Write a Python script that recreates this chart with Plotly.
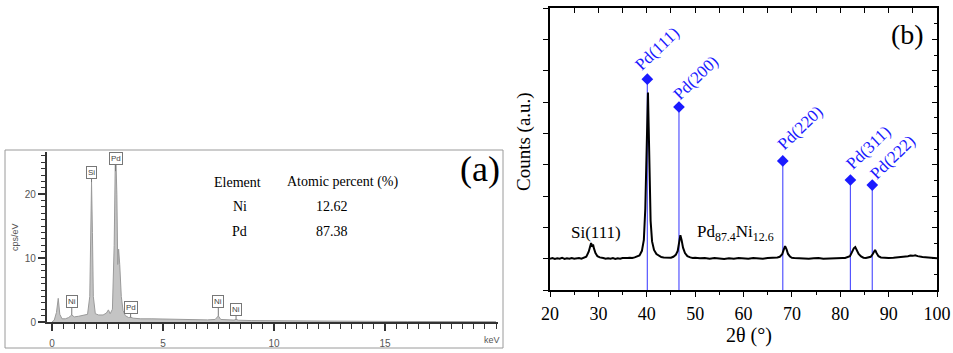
import plotly.graph_objects as go

W, H = 953, 353

# ---------------- Panel (a): EDS spectrum ----------------
eds_kev = [0.0, 0.1, 0.2, 0.28, 0.35, 0.45, 0.6, 0.75, 0.89, 1.0, 1.2, 1.4, 1.6, 1.7, 1.74, 1.78,
           1.82, 1.86, 1.95, 2.1, 2.3, 2.45, 2.54, 2.62, 2.72, 2.8, 2.86, 2.92, 2.96, 3.0, 3.05,
           3.12, 3.2, 3.3, 3.45, 3.54, 3.65, 4.0, 4.5, 5.0, 5.5, 6.0, 6.5, 7.0, 7.35, 7.49, 7.6,
           7.9, 8.2, 8.29, 8.4, 9.0, 10.0, 11.0, 12.0, 13.0, 14.0, 15.0, 16.0, 17.0, 18.0, 19.0, 20.0]
eds_cps = [0.0, 0.3, 1.5, 3.7, 1.2, 0.5, 0.5, 0.7, 1.1, 0.8, 0.9, 1.0, 1.2, 4.0, 12.0, 21.9,
           14.0, 4.0, 1.3, 1.1, 1.1, 1.4, 1.9, 1.3, 2.0, 12.0, 28.0, 20.0, 9.0, 11.4, 9.0,
           4.0, 1.8, 1.0, 0.7, 0.75, 0.6, 0.5, 0.5, 0.45, 0.42, 0.4, 0.35, 0.33, 0.4, 0.95, 0.4,
           0.3, 0.3, 0.42, 0.28, 0.22, 0.18, 0.15, 0.13, 0.11, 0.1, 0.09, 0.08, 0.07, 0.06, 0.05, 0.05]

eds_labels = ["Ni", "Si", "Pd", "Pd", "Ni", "Ni"]
eds_label_kev = [0.89, 1.78, 2.86, 3.54, 7.49, 8.29]
eds_label_cps = [1.1, 21.9, 23.6, 0.7, 0.95, 0.4]
eds_label_off = [-13, -10, -13, -10, -14, -10]

eds_tick_vals = [0, 5, 10, 15]
eds_tick_text = ["0", "5", "10", "15"]

table_header = ["Element", "Atomic percent (%)"]
table_elements = ["Ni", "Pd"]
table_percent = ["12.62", "87.38"]

# ---------------- Panel (b): XRD pattern ----------------
xrd_2theta = [20.0, 20.5, 21.0, 21.5, 22.0, 22.5, 23.0, 23.5, 24.0, 24.5, 25.0, 25.5, 26.0, 26.5,
              27.0, 27.5, 28.0, 28.3, 28.5, 28.7, 28.9, 29.1, 29.4, 29.8, 30.3, 31.0, 31.5, 32.0,
              32.5, 33.0, 33.5, 34.0, 34.5, 35.0, 35.5, 36.0, 36.5, 37.0, 37.5, 38.0, 38.5, 39.0,
              39.4, 39.7, 39.9, 40.1, 40.25, 40.4, 40.6, 40.8, 41.1, 41.5, 42.0, 42.5, 43.0, 43.5,
              44.0, 44.5, 45.0, 45.5, 46.0, 46.4, 46.7, 46.95, 47.2, 47.5, 47.9, 48.4, 49.0, 49.5,
              50.0, 51.0, 52.0, 53.0, 54.0, 55.0, 56.0, 57.0, 58.0, 59.0, 60.0, 61.0, 62.0, 63.0,
              64.0, 65.0, 66.0, 66.5, 67.0, 67.5, 68.0, 68.3, 68.6, 68.9, 69.2, 69.6, 70.0, 70.5,
              71.5, 72.5, 73.5, 74.5, 75.5, 76.5, 77.5, 78.5, 79.5, 80.5, 81.0, 81.5, 82.0, 82.4,
              82.8, 83.1, 83.4, 83.8, 84.3, 84.8, 85.3, 85.8, 86.3, 86.7, 87.0, 87.2, 87.5, 87.9,
              88.4, 89.0, 90.0, 91.0, 92.0, 93.0, 94.0, 94.5, 95.0, 95.5, 96.0, 97.0, 98.0, 99.0, 100.0]
xrd_counts = [1.00, 1.02, 0.99, 1.01, 1.00, 1.03, 0.99, 1.01, 1.00, 1.02, 1.00, 1.01, 1.02, 1.00,
              1.03, 1.06, 1.22, 1.42, 1.50, 1.38, 1.45, 1.32, 1.18, 1.08, 1.04, 1.02, 1.00, 1.01,
              1.00, 1.02, 0.99, 1.01, 1.00, 1.02, 1.01, 1.02, 1.03, 1.02, 1.04, 1.06, 1.10, 1.25,
              1.60, 2.60, 4.20, 6.10, 6.30, 5.20, 3.40, 2.20, 1.55, 1.28, 1.15, 1.09, 1.05, 1.04,
              1.03, 1.04, 1.03, 1.06, 1.12, 1.25, 1.50, 1.75, 1.60, 1.35, 1.18, 1.08, 1.04, 1.02,
              1.03, 1.01, 1.02, 1.00, 1.02, 1.01, 0.99, 1.01, 1.00, 1.02, 1.01, 1.00, 1.02, 1.01,
              1.00, 1.02, 1.02, 1.03, 1.04, 1.06, 1.14, 1.28, 1.40, 1.30, 1.15, 1.07, 1.03, 1.02,
              1.01, 1.02, 1.00, 1.01, 1.02, 1.00, 1.01, 1.02, 1.01, 1.02, 1.02, 1.04, 1.08, 1.20,
              1.33, 1.37, 1.28, 1.15, 1.07, 1.03, 1.02, 1.03, 1.06, 1.14, 1.26, 1.28, 1.18, 1.08,
              1.04, 1.03, 1.02, 1.03, 1.04, 1.06, 1.08, 1.10, 1.09, 1.11, 1.08, 1.05, 1.03, 1.02, 1.01]

ref_names = ["Pd(111)", "Pd(200)", "Pd(220)", "Pd(311)", "Pd(222)"]
ref_2theta = [40.12, 46.66, 68.12, 82.10, 86.62]
ref_height = [6.73, 5.84, 4.12, 3.51, 3.35]
ref_label_dx = [10, 17, 18, 18, 20]
ref_label_dy = [31, 30, 33, 33, 28]


def px(x):
    return x / W


def py(y):
    return 1 - y / H


SERIF = "Liberation Serif, Times New Roman, serif"
SANS = "Liberation Sans, Arial, sans-serif"
BLUE = "#1a1aff"

fig = go.Figure()

# EDS spectrum
fig.add_trace(go.Scatter(x=eds_kev, y=eds_cps, mode="lines", fill="tozeroy",
                         fillcolor="#c4c4c4", line=dict(color="#9a9a9a", width=1),
                         xaxis="x", yaxis="y", hoverinfo="skip", showlegend=False))

# XRD reference stems
stem_x, stem_y = [], []
for t, h in zip(ref_2theta, ref_height):
    stem_x += [t, t, None]
    stem_y += [0, h, None]
fig.add_trace(go.Scatter(x=stem_x, y=stem_y, mode="lines", line=dict(color="#5555ff", width=1.2),
                         xaxis="x2", yaxis="y2", showlegend=False, hoverinfo="skip"))
# XRD pattern
fig.add_trace(go.Scatter(x=xrd_2theta, y=xrd_counts, mode="lines", line=dict(color="black", width=2),
                         xaxis="x2", yaxis="y2", showlegend=False, hoverinfo="skip"))
fig.add_trace(go.Scatter(x=ref_2theta, y=ref_height, mode="markers",
                         marker=dict(symbol="diamond", size=9, color=BLUE),
                         xaxis="x2", yaxis="y2", showlegend=False, hoverinfo="skip"))
# invisible traces for the mirror axes (right and top of panel b)
fig.add_trace(go.Scatter(x=[20], y=[0], mode="markers", marker=dict(opacity=0),
                         xaxis="x2", yaxis="y3", showlegend=False, hoverinfo="skip"))
fig.add_trace(go.Scatter(x=[20], y=[0], mode="markers", marker=dict(opacity=0),
                         xaxis="x3", yaxis="y2", showlegend=False, hoverinfo="skip"))

annotations = []


def ptext(x, y, text, size, family=SERIF, color="black", angle=0):
    annotations.append(dict(x=px(x), y=py(y), xref="paper", yref="paper", text=text,
                            xanchor="center", yanchor="middle", textangle=angle,
                            showarrow=False, font=dict(family=family, size=size, color=color)))


# EDS peak label boxes
for lab, k, c, off in zip(eds_labels, eds_label_kev, eds_label_cps, eds_label_off):
    annotations.append(dict(x=k, y=c, xref="x", yref="y", text=lab, showarrow=True,
                            arrowhead=0, arrowwidth=1, arrowcolor="#777", ax=0, ay=off,
                            font=dict(family=SANS, size=8, color="#444"),
                            bordercolor="#777", borderwidth=1, borderpad=1, bgcolor="white"))

# table in panel (a)
ptext(237, 182, table_header[0], 14)
ptext(343, 182, table_header[1], 14)
for i, (el, pc) in enumerate(zip(table_elements, table_percent)):
    yy = 206 + 25 * i
    ptext(240, yy, el, 14)
    ptext(332, yy, pc, 14)

ptext(480, 169, "(a)", 36)
ptext(15, 237, "cps/eV", 9, family=SANS, color="#555", angle=-90)
ptext(492, 340, "keV", 9, family=SANS, color="#555")

# XRD labels
for n, t, h, dx, dy in zip(ref_names, ref_2theta, ref_height, ref_label_dx, ref_label_dy):
    annotations.append(dict(x=t, y=h, xref="x2", yref="y2", text=n, textangle=-44,
                            xshift=dx, yshift=dy, showarrow=False, xanchor="center", yanchor="middle",
                            font=dict(family=SERIF, size=17, color=BLUE)))
annotations.append(dict(x=29.5, y=1.82, xref="x2", yref="y2", text="Si(111)", showarrow=False,
                        xanchor="center", yanchor="middle",
                        font=dict(family=SERIF, size=17, color="black")))
annotations.append(dict(x=50.0, y=1.82, xref="x2", yref="y2", xanchor="left", yanchor="middle",
                        text="Pd<sub>87.4</sub>Ni<sub>12.6</sub>", showarrow=False,
                        font=dict(family=SERIF, size=17, color="black")))
ptext(907, 35, "(b)", 28)
ptext(524, 142, "Counts (a.u.)", 19, angle=-90)
ptext(749, 335, "2θ (°)", 20)

shapes = [dict(type="rect", xref="paper", yref="paper", x0=px(5), x1=px(503), y0=py(348), y1=py(150),
               line=dict(color="#9a9a9a", width=1), fillcolor="rgba(0,0,0,0)", layer="below")]

fig.update_layout(
    width=W, height=H, margin=dict(l=0, r=0, t=0, b=0, autoexpand=False),
    paper_bgcolor="white", plot_bgcolor="rgba(0,0,0,0)", showlegend=False,
    xaxis=dict(domain=[px(46.7), px(498)], range=[-0.24, 20.09], anchor="y",
               showgrid=False, zeroline=False, showline=True, linecolor="#333", linewidth=1.5,
               ticks="outside", ticklen=7, tickwidth=1.5, tickcolor="#333",
               tickmode="array", tickvals=eds_tick_vals, ticktext=eds_tick_text,
               ticklabelstandoff=4,
               tickfont=dict(family=SANS, size=10, color="#555"),
               minor=dict(tickmode="linear", tick0=0, dtick=0.5, ticks="outside", ticklen=5,
                          tickcolor="#333", tickwidth=1.2)),
    yaxis=dict(domain=[py(322), py(152)], range=[0, 26.6], anchor="x",
               showgrid=False, zeroline=False, showline=True, linecolor="#333", linewidth=1.5,
               ticks="outside", ticklen=7, tickwidth=1.5, tickcolor="#333", dtick=10,
               tickfont=dict(family=SANS, size=10, color="#555"),
               minor=dict(dtick=1, ticks="outside", ticklen=4, tickcolor="#333", tickwidth=1)),
    xaxis2=dict(domain=[px(550), px(937)], range=[20, 100], anchor="y2",
                showgrid=False, zeroline=False, showline=True, linecolor="black", linewidth=1.5,
                ticks="outside", ticklen=5, tickwidth=1.2, tickcolor="black", dtick=10,
                ticklabelstandoff=2,
                tickfont=dict(family=SERIF, size=18, color="black"),
                minor=dict(dtick=5, ticks="outside", ticklen=3, tickcolor="black", tickwidth=1)),
    xaxis3=dict(overlaying="x2", side="top", anchor="y2", range=[20, 100],
                showgrid=False, zeroline=False, showline=True, linecolor="black", linewidth=1.5,
                ticks="inside", ticklen=5, tickwidth=1.2, tickcolor="black", dtick=5,
                showticklabels=False),
    yaxis2=dict(domain=[py(290), py(8)], range=[0, 9], anchor="x2",
                showgrid=False, zeroline=False, showline=True, linecolor="black", linewidth=1.5,
                ticks="outside", ticklen=5, tickwidth=1.2, tickcolor="black", dtick=1,
                showticklabels=False),
    yaxis3=dict(overlaying="y2", side="right", anchor="x2", range=[0, 9],
                showgrid=False, zeroline=False, showline=True, linecolor="black", linewidth=1.5,
                ticks="inside", ticklen=5, tickwidth=1.2, tickcolor="black", dtick=1,
                showticklabels=False,
                minor=dict(dtick=0.5, ticks="inside", ticklen=3, tickcolor="black", tickwidth=1)),
    annotations=annotations, shapes=shapes,
)

fig.write_html("out.html", post_script="document.body.style.margin='0px';")
